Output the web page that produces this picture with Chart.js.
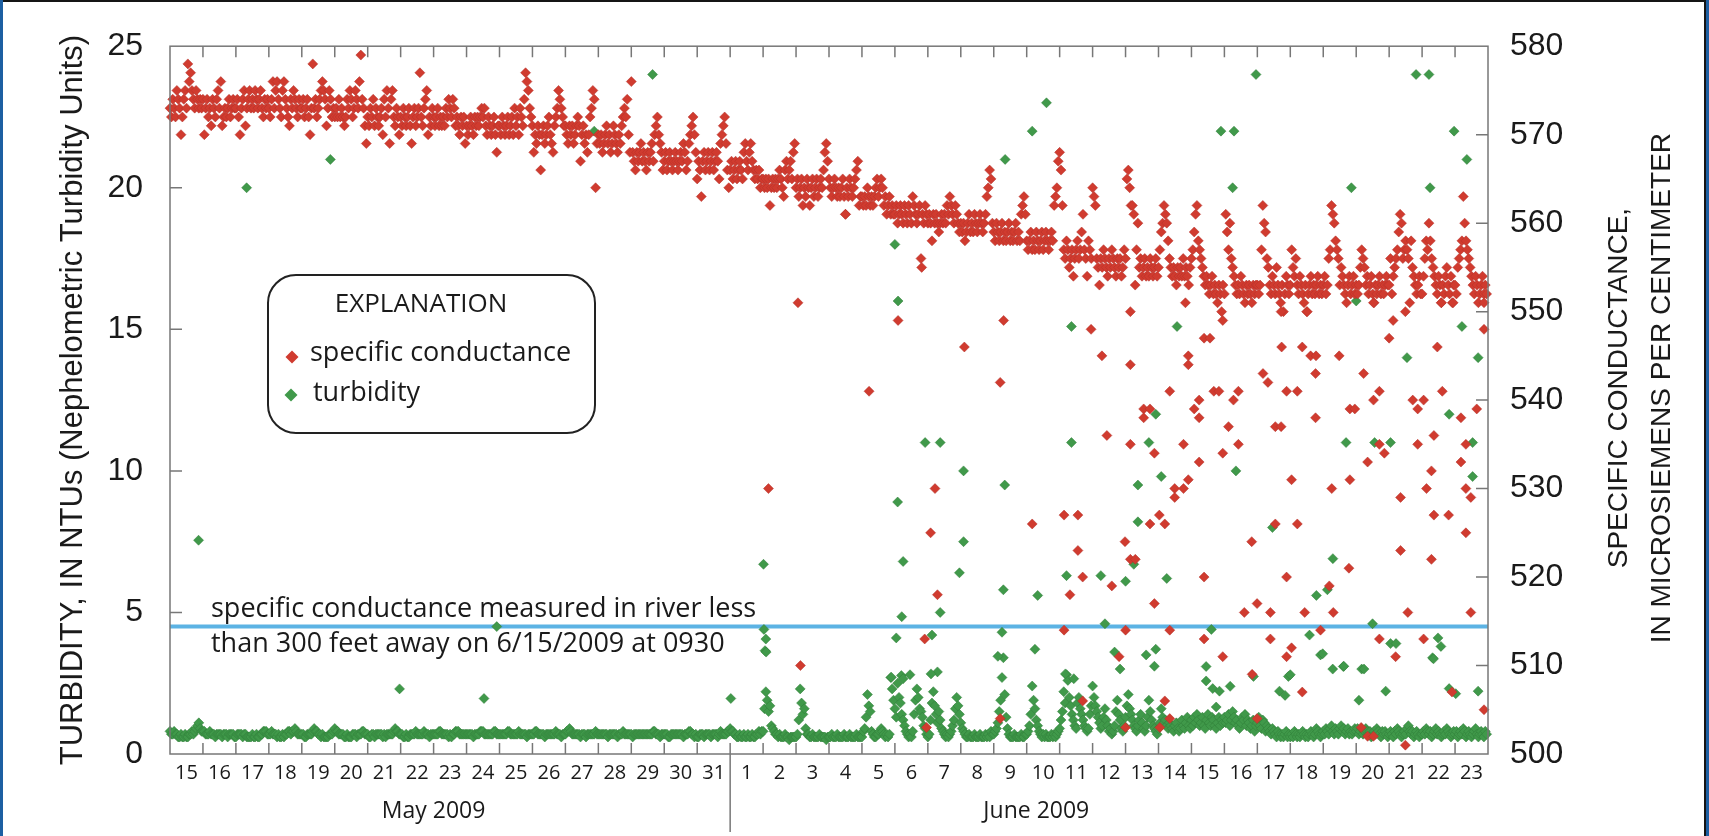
<!DOCTYPE html>
<html>
<head>
<meta charset="utf-8">
<title>Turbidity and specific conductance, May-June 2009</title>
<script src="https://cdn.jsdelivr.net/npm/chart.js@4.4.1/dist/chart.umd.min.js"></script>
<style>
  html, body { margin: 0; padding: 0; background: #fff; }
  canvas { display: block; }
</style>
</head>
<body>
<canvas id="graph" width="1709" height="836"></canvas>
<script>
// =========================== Data
// hours are counted from 00:00 on May 15 2009, one row per day, one value per hour

day_labels = ['15','16','17','18','19','20','21','22','23','24','25','26','27','28','29','30','31',
              '1','2','3','4','5','6','7','8','9','10','11','12','13','14','15','16','17','18','19','20','21','22','23']
month_labels = ['May 2009', 'June 2009']
month_label_hours = [192, 631]
month_break_hour = 408

// specific conductance, microsiemens per centimeter
cond_may = [
  [573,572,574,573,572,575,574,573,570,572,574,575,573,578,576,577,575,574,573,575,574,573,574,573],
  [574,570,573,574,572,573,571,574,573,572,574,575,573,576,571,572,573,572,573,574,572,573,574,573],
  [573,574,572,570,573,574,575,571,573,574,575,573,574,573,575,574,573,574,575,573,572,574,573,574],
  [573,572,574,576,573,575,576,574,573,572,575,576,574,573,572,571,574,573,575,574,573,572,574,573],
  [573,574,572,573,574,572,570,573,578,573,574,572,573,574,575,576,575,574,571,573,575,574,572,573],
  [572,573,572,574,572,573,572,571,572,574,573,575,574,572,573,575,574,573,576,579,574,573,571,569],
  [572,571,573,572,574,571,573,572,571,572,573,570,574,572,575,573,569,574,575,572,571,573,572,570],
  [572,571,573,572,571,572,573,571,569,572,573,571,572,573,577,572,571,573,574,575,570,572,571,573],
  [572,571,572,573,571,572,571,572,571,573,572,574,573,572,574,573,571,572,571,570,572,571,572,569],
  [571,570,571,572,571,570,572,571,572,571,572,573,572,573,571,570,572,571,570,571,572,570,568,571],
  [571,570,572,571,570,571,572,570,571,572,570,573,571,572,570,573,572,571,574,577,576,575,573,572],
  [571,568,570,569,571,570,566,570,571,569,570,571,572,570,569,568,571,572,573,575,574,573,572,571],
  [571,570,569,571,570,571,569,570,571,572,571,567,570,571,569,570,568,570,572,573,575,574,564,569],
  [570,569,570,568,569,570,571,569,570,568,569,571,570,569,568,570,569,571,572,573,572,574,570,568],
  [576,568,567,566,568,567,568,569,567,568,567,566,568,567,568,569,567,570,571,572,570,569,568,566],
  [567,568,566,567,568,567,566,567,568,567,566,567,568,567,569,568,566,567,569,570,571,572,570,568],
  [565,567,566,563,567,568,566,567,568,566,567,568,566,567,568,567,565,569,570,571,572,569,566,564]
]
cond_june = [
  [566,567,565,566,567,565,566,567,566,565,568,569,567,566,568,569,567,566,565,566,565,566,564,565],
  [565,564,565,564,565,562,564,565,564,565,564,565,566,565,564,563,566,567,565,566,567,565,568,569],
  [564,565,563,564,565,562,564,563,565,564,562,564,565,563,564,565,563,564,565,564,566,568,569,567],
  [565,564,563,564,565,564,563,564,563,564,565,563,561,564,563,565,564,563,564,565,566,567,562,563],
  [563,562,563,562,564,563,562,563,562,563,564,565,563,564,565,564,562,563,561,562,563,561,562,561],
  [561,562,560,561,562,561,560,562,561,560,562,561,560,563,562,561,560,561,562,556,561,560,562,561],
  [560,561,560,558,561,560,561,560,559,560,561,560,561,560,562,561,563,562,561,560,562,561,560,559],
  [560,559,560,558,559,560,561,559,560,559,561,560,559,560,561,560,559,560,561,563,564,566,565,560],
  [559,558,560,559,558,559,560,558,559,558,559,560,558,559,558,559,560,558,559,558,561,562,563,561],
  [558,557,558,559,557,558,557,559,558,557,558,559,557,558,559,558,557,558,559,558,562,563,564,567],
  [568,566,562,557,556,558,557,555,556,557,554,556,557,558,556,557,559,561,557,556,554,558,557,556],
  [564,563,562,556,555,553,556,555,557,556,555,554,556,555,557,556,555,554,556,555,556,554,555,557],
  [556,565,566,564,562,562,561,553,557,560,555,556,554,555,556,554,555,554,556,555,554,555,556,554],
  [555,557,559,560,562,561,560,558,556,555,554,555,554,553,555,554,555,554,556,554,555,554,553,555],
  [556,557,559,561,562,558,557,556,555,554,553,554,553,552,553,554,552,553,552,551,553,552,550,553],
  [552,561,559,557,560,556,555,554,553,552,553,552,554,553,552,551,553,552,553,552,551,553,552,553],
  [553,552,553,557,562,560,559,556,555,553,552,554,553,552,555,553,552,551,553,550,552,554,553,552],
  [553,557,555,554,556,553,552,554,553,552,551,553,550,552,553,554,552,553,552,553,554,552,553,552],
  [553,554,552,553,556,557,562,561,560,558,557,556,553,555,554,553,552,551,553,554,552,553,554,552],
  [553,552,553,555,557,556,555,553,554,552,553,554,552,551,553,552,553,554,552,553,552,553,554,553],
  [553,556,552,554,555,556,557,559,561,560,556,557,558,557,556,551,558,555,554,553,552,553,554,552],
  [552,554,556,558,557,560,558,556,555,554,553,552,554,553,551,553,552,554,555,553,552,554,551,553],
  [553,552,555,556,557,558,563,560,558,557,556,555,554,553,552,554,553,551,552,553,554,552,553,552]
]
// scattered low readings [hour, value]
cond_extra = [
  [435.9,530],[457.4,551],[459.2,510],[492,561],[509.2,541],[530.3,549],[547.5,555],[549.7,513],[551,503],[554,525],
  [557.2,530],[559,518],[578.6,546],[604.7,542],[604.7,504],[607.2,549],[628,526],[651.2,527],[651.2,514],[655.5,518],
  [661.3,527],[661.3,523],[664.8,520],[664.8,506],[670.9,548],[678.8,545],[682.4,536],[686,519],[691.3,511],[695.6,524],
  [696,514],[696,503],[699.5,522],[699.5,544],[699.5,535],[699.5,550],[703.1,522],[709.2,539],[709.2,538],[713.8,539],
  [713.8,526],[717,534],[717,517],[720.6,527],[721,503],[724.6,526],[724.6,506],[728.2,541],[728.2,514],[728.2,504],
  [731.8,530],[731.8,529],[738.2,530],[738.2,535],[739.6,551],[741.7,545],[741.7,544],[741.7,531],[746,539],[749.6,540],
  [749.6,538],[749.6,533],[753.2,520],[753.2,513],[753.2,547],[757.5,547],[760.3,541],[764,541],[766.8,534],[766.8,511],
  [766.8,549],[771,537],[774.6,540],[778.2,541],[778.2,535],[782.5,516],[787.9,524],[788.2,509],[791.8,517],[791.8,504],
  [796.1,543],[799.7,542],[801.5,516],[801.5,513],[805.1,537],[809.3,537],[805.1,526],[809.7,546],[809.3,550],[813.3,541],
  [821.1,541],[813.3,520],[813.3,511],[816.9,531],[816.9,512],[821.1,526],[824.7,507],[824.7,546],[826.5,516],[828.3,550],
  [830.8,545],[834.4,543],[834.4,538],[834.7,545],[838,514],[844.4,519],[846.2,530],[847.3,516],[851.6,545],[858.7,521],
  [859.4,539],[863,539],[859.4,531],[867.6,503],[869.4,543],[872.3,502],[876.6,502],[876.6,540],[872.3,533],[876.6,551],
  [880.9,541],[880.9,535],[884.5,534],[880.9,513],[888,547],[890.9,549],[892.7,511],[896.3,529],[896.3,523],[899.8,501],
  [899.8,550],[901.6,516],[905.2,540],[913.1,540],[908.8,539],[908.8,535],[913.1,513],[915.2,530],[918.8,532],[918.8,522],
  [920.6,536],[920.6,527],[931.3,527],[923.1,546],[926,551],[934.6,551],[926.7,541],[933.8,507],[940.3,538],[940.3,533],
  [943.9,535],[943.9,530],[947.5,529],[943.9,525],[947.5,516],[951.8,539],[957.1,505],[957.1,548],[957.1,551]
]

// turbidity, NTU
turb_may = [
  [0.8,0.7,0.7,0.8,0.7,0.7,0.6,0.6,0.7,0.6,0.6,0.7,0.6,0.6,0.7,0.7,0.8,0.7,0.8,0.9,1.0,1.1,0.9,0.8],
  [0.8,0.8,0.7,0.7,0.7,0.8,0.7,0.7,0.7,0.6,0.7,0.7,0.7,0.7,0.6,0.7,0.7,0.7,0.6,0.7,0.7,0.7,0.7,0.6],
  [0.6,0.7,0.7,0.7,0.7,0.6,0.7,0.7,0.6,0.6,0.6,0.6,0.7,0.6,0.6,0.7,0.6,0.6,0.7,0.7,0.8,0.8,0.8,0.7],
  [0.7,0.7,0.8,0.7,0.7,0.7,0.6,0.7,0.6,0.6,0.7,0.6,0.7,0.7,0.8,0.8,0.7,0.8,0.8,0.9,0.8,0.7,0.7,0.7],
  [0.7,0.7,0.6,0.6,0.7,0.7,0.7,0.7,0.8,0.9,0.8,0.8,0.7,0.7,0.6,0.7,0.6,0.6,0.6,0.6,0.7,0.7,0.7,0.8],
  [0.9,0.8,0.8,0.7,0.7,0.7,0.7,0.6,0.6,0.7,0.6,0.6,0.6,0.7,0.7,0.7,0.6,0.7,0.7,0.7,0.8,0.8,0.7,0.7],
  [0.7,0.6,0.6,0.7,0.7,0.6,0.7,0.7,0.7,0.7,0.7,0.6,0.7,0.6,0.7,0.7,0.7,0.7,0.7,0.8,0.9,0.8,0.8,0.7],
  [0.7,0.7,0.6,0.6,0.7,0.6,0.6,0.7,0.7,0.7,0.7,0.8,0.7,0.7,0.7,0.7,0.7,0.8,0.7,0.7,0.7,0.6,0.7,0.7],
  [0.7,0.7,0.7,0.7,0.8,0.8,0.7,0.7,0.7,0.7,0.7,0.6,0.7,0.6,0.7,0.7,0.8,0.8,0.8,0.7,0.7,0.7,0.7,0.7],
  [0.7,0.7,0.7,0.7,0.7,0.6,0.7,0.7,0.7,0.7,0.8,0.8,0.8,0.7,0.7,0.7,0.7,0.7,0.7,0.7,0.8,0.8,0.7,0.7],
  [0.7,0.7,0.7,0.7,0.7,0.7,0.8,0.8,0.7,0.7,0.7,0.7,0.7,0.7,0.8,0.7,0.7,0.7,0.7,0.7,0.6,0.7,0.7,0.7],
  [0.7,0.7,0.8,0.8,0.7,0.7,0.7,0.7,0.7,0.6,0.7,0.7,0.7,0.7,0.7,0.7,0.7,0.8,0.7,0.7,0.7,0.6,0.7,0.7],
  [0.7,0.8,0.8,0.9,0.8,0.7,0.7,0.7,0.7,0.7,0.7,0.6,0.7,0.7,0.7,0.6,0.7,0.7,0.7,0.7,0.7,0.7,0.8,0.7],
  [0.7,0.7,0.7,0.7,0.7,0.7,0.7,0.6,0.7,0.7,0.7,0.7,0.7,0.7,0.6,0.7,0.7,0.7,0.8,0.7,0.7,0.7,0.7,0.7],
  [0.7,0.6,0.7,0.7,0.7,0.7,0.7,0.7,0.7,0.7,0.7,0.7,0.7,0.7,0.7,0.7,0.8,0.8,0.7,0.7,0.7,0.6,0.7,0.7],
  [0.7,0.7,0.7,0.6,0.6,0.7,0.7,0.7,0.7,0.7,0.7,0.7,0.7,0.7,0.6,0.7,0.7,0.7,0.8,0.8,0.7,0.7,0.6,0.7],
  [0.6,0.6,0.7,0.7,0.7,0.6,0.7,0.7,0.7,0.7,0.6,0.7,0.7,0.7,0.7,0.6,0.7,0.8,0.7,0.7,0.7,0.7,0.8,0.8]
]
turb_june = [
  [0.9,0.8,0.8,0.7,0.7,0.6,0.6,0.7,0.6,0.6,0.7,0.6,0.6,0.7,0.6,0.6,0.7,0.6,0.6,0.7,0.7,0.8,0.7,0.8],
  [0.8,1.6,2.2,1.9,1.5,1.7,1.0,0.9,0.8,0.7,0.7,0.6,0.7,0.6,0.6,0.6,0.7,0.6,0.6,0.5,0.6,0.6,0.6,0.6],
  [0.6,0.7,1.2,2.3,1.8,1.4,1.6,0.9,0.7,0.7,0.6,0.6,0.7,0.6,0.6,0.6,0.6,0.7,0.6,0.6,0.6,0.6,0.5,0.6],
  [0.6,0.6,0.7,0.6,0.6,0.6,0.7,0.6,0.6,0.6,0.6,0.7,0.6,0.6,0.6,0.7,0.6,0.6,0.6,0.6,0.7,0.6,0.6,0.6],
  [0.6,0.8,0.9,1.3,2.1,1.7,1.5,0.8,0.7,0.6,0.6,0.7,0.7,0.8,0.9,0.8,0.7,0.6,0.7,0.6,0.7,2.7,2.3,1.9],
  [1.6,1.3,2.5,2.0,1.8,1.4,1.2,1.0,0.8,0.7,0.6,0.7,0.6,0.8,1.4,1.9,2.3,2.0,1.6,1.5,1.3,1.0,0.9,0.7],
  [0.6,0.7,1.2,1.8,2.2,1.7,1.4,1.1,1.5,1.2,0.9,0.8,0.7,0.6,0.7,0.6,0.7,0.8,1.0,1.2,1.6,2.0,1.7,1.4],
  [1.1,0.9,0.8,0.7,0.6,0.6,0.7,0.6,0.6,0.6,0.7,0.6,0.6,0.6,0.7,0.6,0.6,0.6,0.7,0.6,0.7,0.6,0.8,0.7],
  [0.7,0.8,0.9,1.1,1.5,1.9,2.7,3.4,2.1,1.3,0.9,0.7,0.6,0.6,0.6,0.7,0.6,0.6,0.6,0.6,0.7,0.6,0.6,0.7],
  [0.7,0.8,1.0,1.4,2.4,1.9,1.6,1.2,1.0,0.8,0.7,0.6,0.7,0.6,0.7,0.6,0.6,0.6,0.7,0.6,0.7,0.6,0.7,0.8],
  [0.9,1.2,1.5,2.2,1.8,2.8,2.6,2.0,1.7,1.4,1.2,1.0,0.9,1.8,2.0,1.6,1.4,1.2,1.0,0.9,0.8,0.9,1.4,1.7],
  [2.4,2.0,1.7,1.5,1.3,1.1,0.9,1.0,1.3,1.6,1.2,1.0,0.8,0.9,0.7,0.8,1.0,1.5,1.9,1.4,1.2,0.9,0.8,1.0],
  [1.3,1.7,2.1,1.6,1.4,1.2,1.0,0.9,0.8,1.0,1.2,1.4,1.1,0.9,0.8,1.0,1.3,1.9,1.5,1.2,1.0,0.9,0.8,0.7],
  [0.9,1.1,1.6,1.3,1.1,1.2,1.0,0.9,1.1,1.0,0.9,0.8,1.0,1.1,0.9,0.8,0.9,1.2,1.0,0.9,1.1,1.3,1.0,0.9],
  [1.2,1.0,1.3,1.1,1.4,1.2,1.0,1.1,1.3,1.0,0.9,1.2,1.4,1.1,1.0,1.3,1.2,1.0,0.9,1.1,1.3,1.0,1.2,1.1],
  [1.3,1.1,1.2,1.4,1.0,1.2,1.5,1.3,1.1,1.2,1.0,0.9,1.1,1.3,1.2,1.4,1.0,1.2,1.1,0.9,1.0,1.2,0.8,1.0],
  [1.1,1.3,1.0,0.9,1.2,1.1,0.8,1.0,0.9,0.8,0.7,0.9,0.8,0.7,0.6,0.8,0.7,0.6,0.7,0.6,0.7,0.8,0.6,0.7],
  [0.6,0.7,0.6,0.8,0.7,0.6,0.7,0.6,0.7,0.8,0.7,0.6,0.7,0.6,0.7,0.8,0.7,0.6,0.7,0.9,0.8,0.7,0.6,0.7],
  [0.8,0.7,0.9,0.8,0.7,0.9,1.0,0.8,0.7,0.9,0.8,0.7,0.9,1.0,0.8,0.9,0.7,0.8,0.9,0.7,0.8,0.7,0.8,0.9],
  [0.8,0.9,0.7,0.8,0.9,0.7,0.8,0.9,0.8,0.7,0.8,0.6,0.7,0.8,0.7,0.9,0.8,0.7,0.6,0.8,0.7,0.8,0.7,0.6],
  [0.7,0.8,0.7,0.6,0.8,0.7,0.9,0.8,0.7,0.6,0.7,0.8,0.7,0.9,1.0,0.8,0.7,0.8,0.6,0.7,0.8,0.7,0.6,0.7],
  [0.7,0.8,0.7,0.9,0.8,0.7,0.8,0.6,0.7,0.8,0.9,0.7,0.8,0.7,0.6,0.7,0.8,0.7,0.9,0.8,0.7,0.6,0.7,0.8],
  [0.7,0.8,0.6,0.7,0.8,0.7,0.9,0.8,0.6,0.7,0.8,0.7,0.6,0.7,0.8,0.9,0.7,0.6,0.7,0.8,0.7,0.6,0.8,0.7]
]
// scattered high readings [hour, value]
turb_extra = [
  [20.8,7.55],[55.8,20.0],[116.8,21.0],[167.2,2.3],[228.7,1.96],[238,4.5],[309,22.0],[351.5,24.0],[408.5,1.96],
  [432.3,6.7],[432.6,4.4],[433.4,3.65],[434,4.06],[434.2,3.6],[525.4,2.71],[532.7,2.77],[528,18.0],[530.3,16.0],
  [530,8.9],[534,6.8],[533,4.85],[529,4.1],[539,2.8],[534,2.66],[550,11.0],[561,11.0],[555,4.2],[561,5.0],[559,2.9],[554.3,2.83],
  [578,10.0],[578,7.5],[575,6.4],[608,9.5],[607,5.8],[606,4.3],[603,3.45],[608.3,21.0],[628,22.0],[638.4,23.0],
  [630,3.7],[632,5.6],[652.2,2.83],[658.3,2.66],[653,6.3],[656.6,11.0],[656.6,15.1],[678,6.3],[681,4.6],[688,3.6],
  [692,3.0],[696,6.1],[705,9.5],[705,8.2],[702,6.7],[713,11.0],[718,12.0],[722,9.8],[726,6.2],[711,3.5],[717,3.1],[718,3.7],
  [733.5,15.1],[765.5,22.0],[775,22.0],[754.7,3.09],[754.7,2.58],[758.5,4.4],[759.5,2.31],[764.4,2.22],[762,1.66],
  [772.2,2.39],[774,20.0],[776.4,10.0],[789.2,2.74],[791,24.0],[803,8.0],[808.1,2.22],[812.2,2.07],[814.6,2.74],[816,2.8],
  [830,4.2],[835,5.6],[838,3.5],[839.6,3.54],[843,5.8],[846.9,3.0],[847,6.9],[854.6,3.09],[855,3.1],[856.6,11.0],
  [860.5,20.0],[864,16.0],[907.6,24.0],[917,24.0],[866,1.9],[868,3.0],[869.7,3.0],[875.9,4.6],[877.4,11.0],[885.5,2.22],
  [889,11.0],[889,3.9],[893,3.9],[901,14.0],[917.8,20.0],[919.6,3.4],[920.3,3.36],[923.6,4.1],[925.7,3.8],[931.7,12.0],
  [931.7,2.31],[935.3,22.0],[936.5,2.13],[941,15.1],[944.6,21.0],[948.8,11.0],[948.8,9.8],[952.8,14.0],[952.8,2.22]
]

// specific conductance measured in the river on 6/15/2009 at 0930
river_cond = 514.4

// =========================== Build points
function to_points(by_day, first_day, extra){
    const pts = []
    by_day.forEach((row, d) => {
        row.forEach((v, h) => pts.push({x: (first_day + d) * 24 + h, y: v}))
    })
    extra.forEach(p => pts.push({x: p[0], y: p[1]}))
    return pts
}

const cond_points = to_points(cond_may, 0, []).concat(to_points(cond_june, 17, cond_extra))
const turb_points = to_points(turb_may, 0, []).concat(to_points(turb_june, 17, turb_extra))

const SANS = "'Liberation Sans', Arial, sans-serif"
const HUMAN = "'Open Sans', 'Noto Sans', sans-serif"
const RED = '#d03b2f'
const GREEN = '#40994a'
const AXIS = '#777777'

function diamond(ctx, x, y, r, color){
    ctx.beginPath()
    ctx.moveTo(x - r, y); ctx.lineTo(x, y - r); ctx.lineTo(x + r, y); ctx.lineTo(x, y + r)
    ctx.closePath()
    ctx.fillStyle = color
    ctx.fill()
}

// =========================== Frame, ticks, titles, legend
const frame = {
    id: 'frame',
    afterDraw(chart){
        const ctx = chart.ctx
        const a = chart.chartArea
        const x = chart.scales.x, yt = chart.scales.yt, yc = chart.scales.yc
        ctx.save()

        // plot box and inward ticks
        ctx.strokeStyle = AXIS
        ctx.lineWidth = 1.5
        ctx.strokeRect(a.left, a.top, a.right - a.left, a.bottom - a.top)
        ctx.beginPath()
        for(let d = 1; d < day_labels.length; d++){
            const px = x.getPixelForValue(d * 24)
            ctx.moveTo(px, a.top); ctx.lineTo(px, a.top + 11)
            ctx.moveTo(px, a.bottom); ctx.lineTo(px, a.bottom - 11)
        }
        for(let v = 5; v < 25; v += 5){
            const py = yt.getPixelForValue(v)
            ctx.moveTo(a.left, py); ctx.lineTo(a.left + 12, py)
        }
        for(let v = 510; v < 580; v += 10){
            const py = yc.getPixelForValue(v)
            ctx.moveTo(a.right - 12, py); ctx.lineTo(a.right, py)
        }
        // month break below the axis
        const mb = x.getPixelForValue(month_break_hour)
        ctx.moveTo(mb, a.bottom); ctx.lineTo(mb, chart.height - 4)
        ctx.stroke()

        // month names
        ctx.fillStyle = '#1a1a1a'
        ctx.font = '23px ' + HUMAN
        ctx.textAlign = 'center'
        ctx.textBaseline = 'alphabetic'
        month_labels.forEach((m, i) => ctx.fillText(m, x.getPixelForValue(month_label_hours[i]), 818))

        // right axis title, reads bottom to top
        ctx.font = '28px ' + SANS
        ctx.textBaseline = 'middle'
        const cy = (a.top + a.bottom) / 2 - 12
        ctx.translate(1619, cy); ctx.rotate(-Math.PI / 2)
        ctx.fillText('SPECIFIC CONDUCTANCE,', 0, 0)
        ctx.fillText('IN MICROSIEMENS PER CENTIMETER', 0, 43)
        ctx.setTransform(1, 0, 0, 1, 0, 0)

        // note for the river line
        const ry = yc.getPixelForValue(river_cond)
        ctx.font = '27px ' + HUMAN
        ctx.textAlign = 'left'
        ctx.textBaseline = 'alphabetic'
        ctx.fillText('specific conductance measured in river less', a.left + 41, ry - 10)
        ctx.fillText('than 300 feet away on 6/15/2009 at 0930', a.left + 41, ry + 25)

        // explanation box
        ctx.beginPath()
        ctx.roundRect(268, 275, 327, 158, 28)
        ctx.fillStyle = '#fff'
        ctx.fill()
        ctx.strokeStyle = '#222'
        ctx.lineWidth = 2
        ctx.stroke()
        ctx.fillStyle = '#1a1a1a'
        ctx.font = '26px ' + HUMAN
        ctx.textAlign = 'center'
        ctx.fillText('EXPLANATION', 421, 312)
        ctx.textAlign = 'left'
        ctx.font = '27px ' + HUMAN
        ctx.fillText('specific conductance', 310, 361)
        ctx.fillText('turbidity', 313, 401)
        diamond(ctx, 292, 357, 6.5, RED)
        diamond(ctx, 291, 395, 6.5, GREEN)

        // outer picture border
        ctx.fillStyle = '#151515'
        ctx.fillRect(0, 0, chart.width, 2)
        ctx.fillRect(chart.width - 5, 0, 2, chart.height)
        ctx.fillStyle = '#1d5fa2'
        ctx.fillRect(0, 0, 3, chart.height)
        ctx.fillRect(chart.width - 3, 0, 3, chart.height)
        ctx.restore()
    }
}

// =========================== Chart
const cv = document.getElementById('graph')
new Chart(cv, {
    type: 'scatter',
    data: {
        datasets: [{
            label: 'specific conductance',
            yAxisID: 'yc',
            data: cond_points,
            pointStyle: 'rectRot',
            pointRadius: 5,
            backgroundColor: RED,
            borderColor: '#b3302a',
            borderWidth: 0.5,
            clip: false
        },{
            label: 'turbidity',
            yAxisID: 'yt',
            data: turb_points,
            pointStyle: 'rectRot',
            pointRadius: 5,
            backgroundColor: GREEN,
            borderColor: '#2f7d39',
            borderWidth: 0.5,
            clip: false
        },{
            type: 'line',
            label: 'river',
            yAxisID: 'yc',
            data: [{x: 0, y: river_cond}, {x: day_labels.length * 24, y: river_cond}],
            borderColor: '#5cb3e4',
            borderWidth: 4,
            pointRadius: 0,
            clip: false
        }]
    },
    options: {
        responsive: false,
        animation: false,
        events: [],
        layout: {padding: {top: 42, left: 0, right: 0, bottom: 0}},
        plugins: {legend: {display: false}, tooltip: {enabled: false}},
        scales: {
            x: {
                type: 'linear',
                position: 'bottom',
                min: 0,
                max: day_labels.length * 24,
                afterBuildTicks: s => { s.ticks = day_labels.map((_, i) => ({value: i * 24 + 12})) },
                ticks: {
                    callback: (v, i) => day_labels[i],
                    autoSkip: false,
                    maxRotation: 0,
                    padding: 7,
                    color: '#1a1a1a',
                    font: {family: HUMAN, size: 20}
                },
                grid: {display: false, drawTicks: false, tickLength: 0},
                border: {display: false},
                afterFit: s => { s.height = 82 }
            },
            yt: {
                position: 'left',
                min: 0,
                max: 25,
                ticks: {stepSize: 5, padding: 27, color: '#1a1a1a', font: {family: SANS, size: 32}},
                grid: {display: false, drawTicks: false, tickLength: 0},
                border: {display: false},
                title: {
                    display: true,
                    text: 'TURBIDITY, IN NTUs (Nephelometric Turbidity Units)',
                    color: '#1a1a1a',
                    font: {family: SANS, size: 31},
                    padding: {top: 55, bottom: 0}
                },
                afterFit: s => { s.width = 170 }
            },
            yc: {
                position: 'right',
                min: 500,
                max: 580,
                ticks: {stepSize: 10, padding: 22, color: '#1a1a1a', font: {family: SANS, size: 32}},
                grid: {display: false, drawTicks: false, tickLength: 0},
                border: {display: false},
                afterFit: s => { s.width = 221 }
            }
        }
    },
    plugins: [frame]
})
</script>
